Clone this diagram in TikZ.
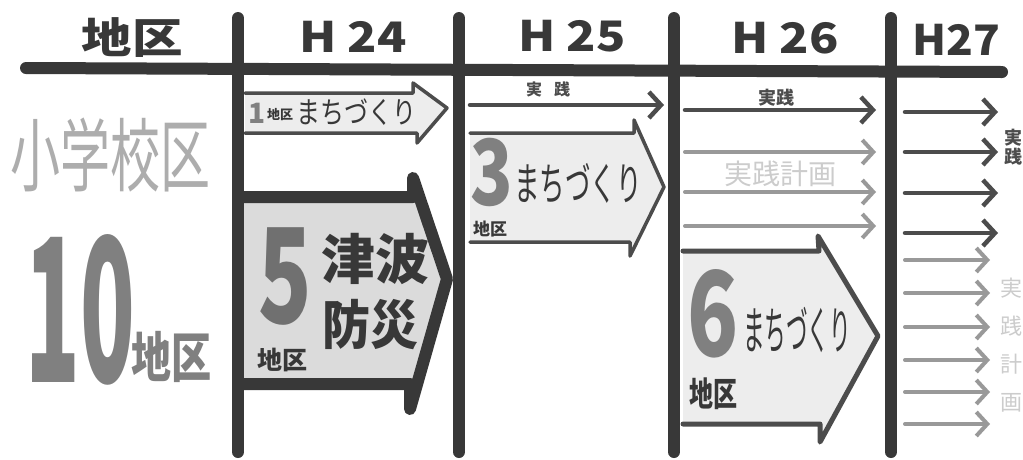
\documentclass[tikz,border=0pt]{standalone}
\usepackage{fontspec}
\newfontfamily\jp{Noto Sans CJK JP}
\usetikzlibrary{arrows.meta}
\definecolor{ink}{gray}{0.22}
\definecolor{inkmid}{gray}{0.30}
\definecolor{greyA}{gray}{0.50}
\definecolor{greyB}{gray}{0.68}
\definecolor{greyC}{gray}{0.80}
\definecolor{fillA}{gray}{0.93}
\definecolor{fillB}{gray}{0.86}
\definecolor{arrowgrey}{gray}{0.60}
\begin{document}
\begin{tikzpicture}[x=1pt,y=-1pt,
  gridline/.style={line width=12pt, draw=ink, line cap=round},
  blockthin/.style={draw=inkmid, line width=3.5pt, fill=fillA, line join=round, line cap=round},
  blockmid/.style={draw=inkmid, line width=5pt, fill=fillA, line join=round, line cap=round},
  blockthick/.style={draw=ink, line width=12pt, fill=fillB, line join=round, line cap=round},
  darkarrow/.style={line width=4.5pt, draw=inkmid, line cap=round, -{Straight Barb[length=12pt,width=26pt,line width=4.5pt]}},
  greyarrow/.style={line width=4pt, draw=arrowgrey, line cap=round, -{Straight Barb[length=11pt,width=24pt,line width=4pt]}},
  head/.style={font=\jp\bfseries\fontsize{42}{42}\selectfont, text=ink, inner sep=0pt},
  lab/.style={inner sep=0pt}
]
\useasboundingbox (0,0) rectangle (1023,459);
\fill[white] (0,0) rectangle (1023,459);

% ---- block arrows ----
\path[fill=fillB] (243,197) -- (413,197) -- (413,180) -- (447,279) -- (410,407) -- (410,384) -- (243,384) -- cycle;
\draw[blockthick, fill=none] (243,197) -- (413,197) -- (413,178) -- (447,279) -- (410,409) -- (410,384) -- (243,384);

\path[fill=fillA] (245,93) -- (413,93) -- (413,83) -- (447,108) -- (417,143) -- (417,133) -- (245,133) -- cycle;
\draw[blockthin, fill=none] (245,93) -- (413,93) -- (413,83) -- (447,108) -- (417,143) -- (417,133) -- (245,133);

\path[fill=fillA] (470,133) -- (634,133) -- (634,120) -- (664,187) -- (630,256) -- (630,242) -- (470,242) -- cycle;
\draw[blockthin, fill=none] (470,133) -- (634,133) -- (634,120) -- (664,187) -- (630,256) -- (630,242) -- (470,242);

\path[fill=fillA] (683,251) -- (819,251) -- (818,236) -- (878,336) -- (820,442) -- (820,424) -- (683,424) -- cycle;
\draw[blockmid, fill=none] (683,251) -- (819,251) -- (818,236) -- (878,336) -- (820,442) -- (820,424) -- (683,424);

% ---- line arrows ----
\coordinate (a25s) at (470,105); \coordinate (a25e) at (664,105);
\draw[darkarrow] (a25s) -- (a25e);
\coordinate (a26s) at (685,110); \coordinate (a26e) at (876,110);
\draw[darkarrow] (a26s) -- (a26e);
\foreach \yy [count=\i] in {152,192,226} {
  \coordinate (g26s\i) at (685,\yy); \coordinate (g26e\i) at (876,\yy);
  \draw[greyarrow] (g26s\i) -- (g26e\i);
}
\foreach \yy [count=\i] in {112,152,193,233} {
  \coordinate (d27s\i) at (905,\yy); \coordinate (d27e\i) at (998,\yy);
  \draw[darkarrow] (d27s\i) -- (d27e\i);
}
\foreach \yy [count=\i] in {260,293,327,360,392,424} {
  \coordinate (g27s\i) at (905,\yy); \coordinate (g27e\i) at (990,\yy);
  \draw[greyarrow] (g27s\i) -- (g27e\i);
}

% ---- grid lines ----
\draw[gridline] (26,68) -- (1002,72);
\draw[gridline] (238,18) -- (238,452);
\draw[gridline] (459,18) -- (459,452);
\draw[gridline] (674,18) -- (674,452);
\draw[gridline] (891,18) -- (891,452);

% ---- headers ----
\node[head, xscale=1.2] (hchiku) at (132,38) {地区};
\node[head, xscale=1.15] (h24) at (353,37) {H 24};
\node[head, xscale=1.15] (h25) at (572,36) {H 25};
\node[head, xscale=1.15] (h26) at (785,38) {H 26};
\node[head, xscale=1.05] (h27) at (956,40) {H27};

% ---- left column ----
\node[lab, font=\jp\fontsize{50}{50}\selectfont, text=greyB, yscale=1.6] (shogaku) at (110,155) {小学校区};
\node[lab, font=\jp\bfseries\fontsize{100}{100}\selectfont, text=greyA, xscale=0.9, yscale=2.0] (ten) at (80,310) {10};
\node[lab, font=\jp\bfseries\fontsize{40}{40}\selectfont, text=greyA, yscale=1.35] (tenchiku) at (171,357) {地区};

% ---- H24 ----
\node[lab, font=\jp\bfseries\fontsize{28}{28}\selectfont, text=greyA] (one) at (257,113) {1};
\node[lab, font=\jp\bfseries\fontsize{13}{13}\selectfont, text=ink] (onechiku) at (280,115) {地区};
\node[lab, font=\jp\fontsize{24}{24}\selectfont, text=ink, yscale=1.25] (onemachi) at (356,112) {まちづくり};

\node[lab, font=\jp\bfseries\fontsize{88}{88}\selectfont, text=inkmid!80, yscale=1.5] (five) at (285,276) {5};
\node[lab, font=\jp\bfseries\fontsize{25}{25}\selectfont, text=ink] (fivechiku) at (282,360) {地区};
\node[lab, font=\jp\bfseries\fontsize{54}{54}\selectfont, text=ink] (tsunami) at (375,259) {津波};
\node[lab, font=\jp\bfseries\fontsize{48}{48}\selectfont, text=ink, yscale=1.1] (bosai) at (370,325) {防災};

% ---- H25 ----
\node[lab, font=\jp\bfseries\fontsize{16}{16}\selectfont, text=inkmid] (jissen25) at (548,89) {実\hspace{12pt}践};
\node[lab, font=\jp\bfseries\fontsize{70}{70}\selectfont, text=greyA, yscale=1.3] (three) at (492,172) {3};
\node[lab, font=\jp\bfseries\fontsize{17}{17}\selectfont, text=ink] (threechiku) at (490,229) {地区};
\node[lab, font=\jp\fontsize{30}{30}\selectfont, text=ink, xscale=0.85, yscale=1.5] (threemachi) at (578,183) {まちづくり};

% ---- H26 ----
\node[lab, font=\jp\bfseries\fontsize{18}{18}\selectfont, text=inkmid] (jissen26) at (776,98) {実践};
\node[lab, font=\jp\fontsize{28}{28}\selectfont, text=greyC] (keikaku26) at (780,174) {実践計画};
\node[lab, font=\jp\bfseries\fontsize{84}{84}\selectfont, text=greyA, yscale=1.4] (six) at (713,314) {6};
\node[lab, font=\jp\bfseries\fontsize{24}{24}\selectfont, text=ink, yscale=1.4] (sixchiku) at (713,394) {地区};
\node[lab, font=\jp\fontsize{27}{27}\selectfont, text=ink, xscale=0.8, yscale=1.9] (sixmachi) at (797,330) {まちづくり};

% ---- H27 ----
\node[lab, font=\jp\bfseries\fontsize{18}{19}\selectfont, text=inkmid, align=center] (jissen27) at (1013,147) {実\\践};
\node[lab, font=\jp\fontsize{22}{38}\selectfont, text=greyC, align=center] (keikaku27) at (1011,345) {実\\践\\計\\画};
\end{tikzpicture}
\end{document}
